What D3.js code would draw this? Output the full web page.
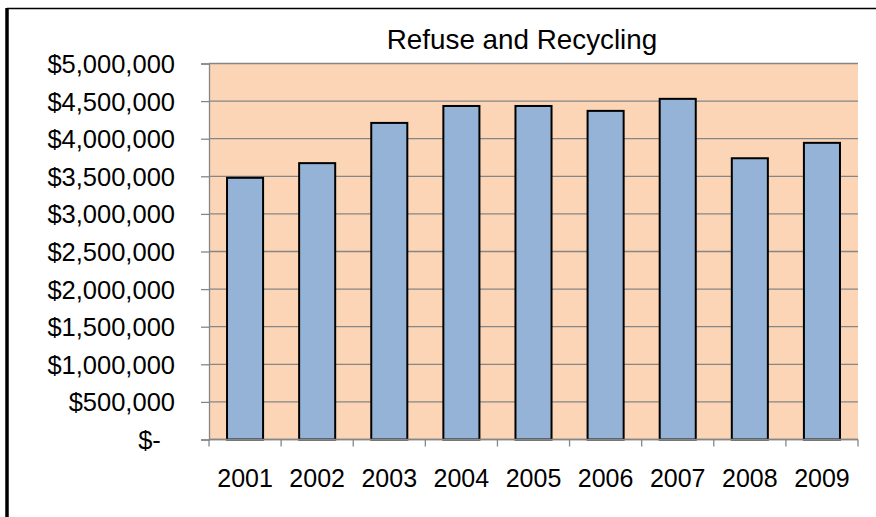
<!DOCTYPE html>
<html>
<head>
    <meta charset="UTF-8">
    <title>Refuse and Recycling</title>
    <script src="https://cdn.jsdelivr.net/npm/d3@7/dist/d3.min.js"></script>
    <style>
        body { margin: 0; background: #fff; }
        text { font-family: Arial, "Liberation Sans", sans-serif; fill: #000; }
    </style>
</head>
<body>
    <svg id="chart" width="876" height="517"></svg>
    <script>
        // data
        const years = ["2001", "2002", "2003", "2004", "2005", "2006", "2007", "2008", "2009"];
        const costs = [3480000, 3675000, 4210000, 4435000, 4435000, 4370000, 4530000, 3740000, 3945000];
        const yTicks = [0, 500000, 1000000, 1500000, 2000000, 2500000, 3000000, 3500000, 4000000, 4500000, 5000000];
        const title = "Refuse and Recycling";

        const dimensions = {
            width: 876,
            height: 517,
            plot: { left: 209, right: 858, top: 63.5, bottom: 439.5 }
        }

        const svg = d3.select("#chart");
        const p = dimensions.plot;

        const xScale = d3.scaleBand()
            .domain(years)
            .range([p.left, p.right])
            .paddingInner(0.5)
            .paddingOuter(0.25);

        const yScale = d3.scaleLinear()
            .domain([0, 5000000])
            .range([p.bottom, p.top]);

        // chart frame (only top and left edges show)
        svg.append("line")
            .attr("x1", 7).attr("x2", dimensions.width)
            .attr("y1", 8.5).attr("y2", 8.5)
            .attr("stroke", "#000").attr("stroke-width", 1.5);
        svg.append("line")
            .attr("x1", 7).attr("x2", 7)
            .attr("y1", 8).attr("y2", dimensions.height)
            .attr("stroke", "#000").attr("stroke-width", 3.5);

        // plot background
        svg.append("rect")
            .attr("x", p.left).attr("y", p.top)
            .attr("width", p.right - p.left)
            .attr("height", p.bottom - p.top)
            .attr("fill", "#FBD5B5");

        // gridlines + y axis
        const fmt = v => v === 0 ? "$-\u00a0\u00a0" : "$" + d3.format(",")(v);
        const yAxis = svg.append("g")
            .attr("transform", `translate(${p.left},0)`)
            .call(d3.axisLeft(yScale)
                .tickValues(yTicks)
                .tickSize(8)
                .tickPadding(26)
                .tickFormat(fmt));
        yAxis.select(".domain").attr("stroke", "#868686").attr("stroke-width", 1.3);
        yAxis.selectAll(".tick line").attr("stroke", "#868686").attr("stroke-width", 1.3);
        yAxis.selectAll(".tick text")
            .style("font-size", "25.5px")
            .attr("dy", "0.35em");

        svg.append("g")
            .selectAll("line")
            .data(yTicks)
            .join("line")
            .attr("x1", p.left).attr("x2", p.right)
            .attr("y1", d => yScale(d)).attr("y2", d => yScale(d))
            .attr("stroke", "#868686")
            .attr("stroke-width", 1.3);

        // bars
        svg.append("g")
            .selectAll("rect")
            .data(years)
            .join("rect")
            .attr("x", d => xScale(d))
            .attr("width", xScale.bandwidth())
            .attr("y", (d, i) => yScale(costs[i]))
            .attr("height", (d, i) => yScale(0) - yScale(costs[i]))
            .attr("fill", "#95B3D7")
            .attr("stroke", "#000")
            .attr("stroke-width", 2);

        // x axis: ticks between categories
        const step = xScale.step();
        const bounds = d3.range(years.length + 1).map(i => p.left + i * step);
        const xAxis = svg.append("g");
        xAxis.append("line")
            .attr("x1", p.left).attr("x2", p.right)
            .attr("y1", p.bottom).attr("y2", p.bottom)
            .attr("stroke", "#868686").attr("stroke-width", 1.3);
        xAxis.selectAll(".xt")
            .data(bounds)
            .join("line")
            .attr("class", "xt")
            .attr("x1", d => d).attr("x2", d => d)
            .attr("y1", p.bottom).attr("y2", p.bottom + 7)
            .attr("stroke", "#868686").attr("stroke-width", 1.3);
        xAxis.selectAll("text")
            .data(years)
            .join("text")
            .attr("x", d => xScale(d) + xScale.bandwidth() / 2)
            .attr("y", p.bottom + 47)
            .attr("text-anchor", "middle")
            .style("font-size", "25px")
            .text(d => d);

        // title
        svg.append("text")
            .attr("x", 522)
            .attr("y", 49)
            .attr("text-anchor", "middle")
            .style("font-size", "27.8px")
            .text(title);
    </script>
</body>
</html>
